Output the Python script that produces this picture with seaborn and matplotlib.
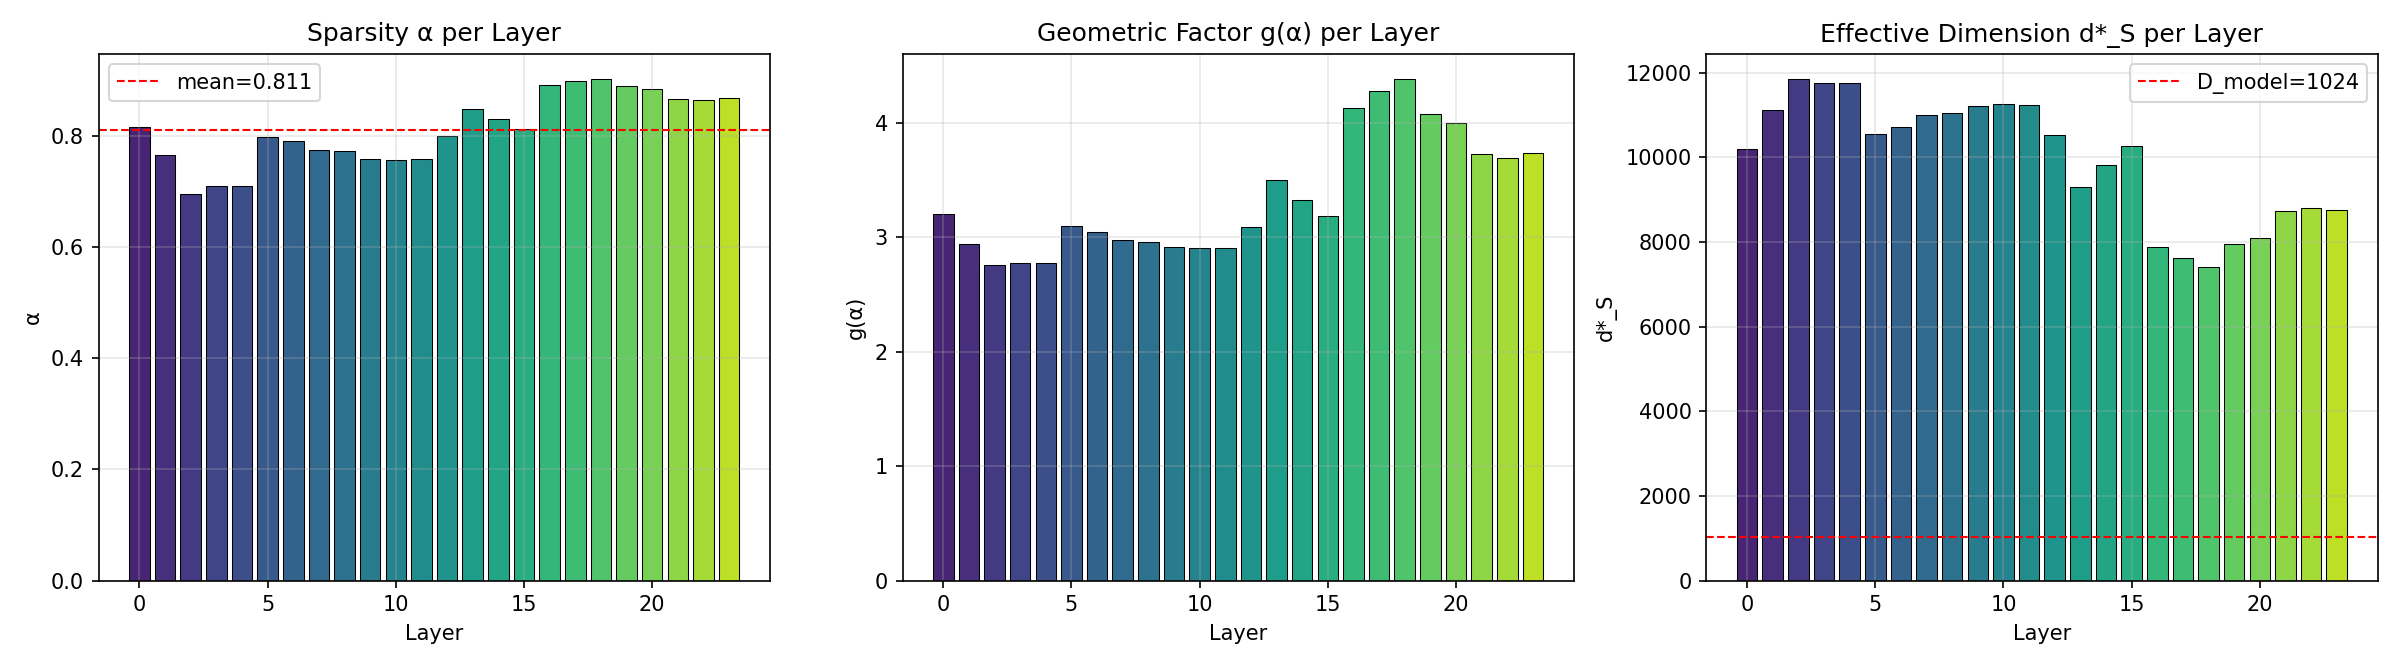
import numpy as np
import pandas as pd
import seaborn as sns
import matplotlib.pyplot as plt

# values
layers = list(range(24))
alpha = [0.816, 0.766, 0.696, 0.709, 0.709, 0.798, 0.790, 0.774, 0.772, 0.759, 0.756, 0.759,
         0.799, 0.849, 0.831, 0.812, 0.892, 0.898, 0.902, 0.889, 0.885, 0.867, 0.864, 0.868]
g_alpha = [3.206, 2.939, 2.754, 2.774, 2.774, 3.096, 3.049, 2.974, 2.962, 2.913, 2.904, 2.910,
           3.093, 3.501, 3.322, 3.183, 4.133, 4.278, 4.383, 4.075, 4.003, 3.725, 3.696, 3.733]
d_star = [10204, 11115, 11851, 11757, 11757, 10556, 10720, 10994, 11049, 11213, 11260, 11229,
          10532, 9311, 9828, 10274, 7883, 7616, 7413, 7945, 8086, 8736, 8814, 8759]
d_model = 1024

df = pd.DataFrame({"layer": layers, "alpha": alpha, "g": g_alpha, "d": d_star})

colors = plt.cm.viridis(np.linspace(0.1, 0.9, len(layers)))
palette = {l: colors[i] for i, l in enumerate(layers)}

fig, axes = plt.subplots(1, 3, figsize=(16, 4.44), dpi=150)

panels = [
    ("alpha", "Sparsity α per Layer", "α"),
    ("g", "Geometric Factor g(α) per Layer", "g(α)"),
    ("d", "Effective Dimension d*_S per Layer", "d*_S"),
]

for ax, (col, title, ylabel) in zip(axes, panels):
    sns.barplot(data=df, x="layer", y=col, hue="layer", palette=palette, native_scale=True,
                legend=False, saturation=1, edgecolor="black", linewidth=0.5, width=0.8, ax=ax)
    ax.set_title(title, fontsize=12)
    ax.set_xlabel("Layer")
    ax.set_ylabel(ylabel)
    ax.grid(True, alpha=0.3)

# mean line on the sparsity panel
m = np.mean(alpha)
axes[0].axhline(m, color="red", linestyle="--", linewidth=1, label=f"mean={m:.3f}")
axes[0].legend(loc="upper left")

# model dimension on the effective dimension panel
axes[2].axhline(d_model, color="red", linestyle="--", linewidth=1, label=f"D_model={d_model}")
axes[2].legend(loc="upper right")

plt.tight_layout()
plt.savefig("out.png", dpi=150)
